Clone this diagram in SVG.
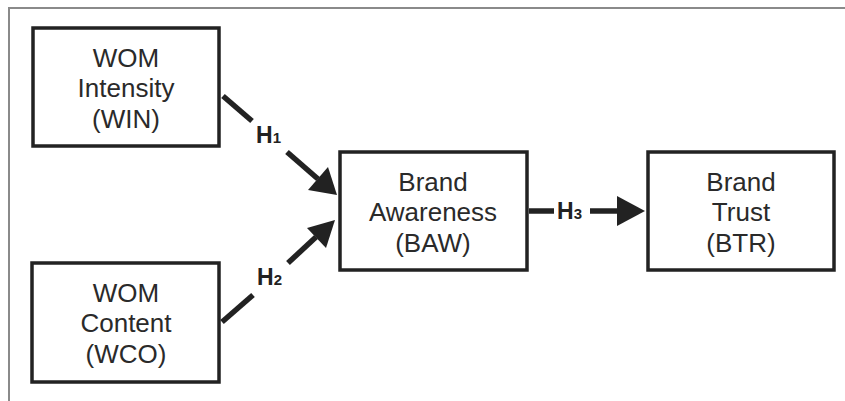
<svg xmlns="http://www.w3.org/2000/svg" width="845" height="401" viewBox="0 0 845 401">
<style>
.box{fill:#fff;stroke:#222;stroke-width:3.5}
.t{font-family:"Liberation Sans",Arial,sans-serif;font-size:26px;fill:#2a2a2a;text-anchor:middle}
.h{font-family:"Liberation Sans",Arial,sans-serif;font-size:23px;font-weight:bold;fill:#222}
.s{font-size:15px}
.ln{stroke:#222;stroke-width:5.5;fill:none}
.hd{fill:#222}
.frame{stroke:#8a8a8a;stroke-width:2;fill:none}
</style>
<rect width="845" height="401" fill="#fff"/>
<path class="frame" d="M9,401 V8 H845"/>
<g id="WIN">
<rect class="box" x="33" y="28" width="186" height="118"/>
<text class="t" x="126" y="67">WOM</text>
<text class="t" x="126" y="97">Intensity</text>
<text class="t" x="126" y="128">(WIN)</text>
</g>
<g id="WCO">
<rect class="box" x="32" y="263" width="187" height="119"/>
<text class="t" x="126" y="302">WOM</text>
<text class="t" x="126" y="332">Content</text>
<text class="t" x="126" y="363">(WCO)</text>
</g>
<g id="BAW">
<rect class="box" x="340" y="152" width="187" height="118"/>
<text class="t" x="433" y="191">Brand</text>
<text class="t" x="433" y="221">Awareness</text>
<text class="t" x="433" y="252">(BAW)</text>
</g>
<g id="BTR">
<rect class="box" x="648" y="152" width="186" height="118"/>
<text class="t" x="741" y="191">Brand</text>
<text class="t" x="741" y="221">Trust</text>
<text class="t" x="741" y="252">(BTR)</text>
</g>
<g id="connectors">
<line class="ln" x1="223" y1="96" x2="252" y2="121"/>
<line class="ln" x1="287" y1="152" x2="318" y2="179"/>
<polygon class="hd" points="337,195 308,190 328,167"/>
<line class="ln" x1="222" y1="322" x2="253" y2="295"/>
<line class="ln" x1="288" y1="263" x2="316" y2="237"/>
<polygon class="hd" points="335,220 326,248 307,228"/>
<line class="ln" x1="529" y1="211" x2="554" y2="211"/>
<line class="ln" x1="590" y1="211" x2="620" y2="211"/>
<polygon class="hd" points="645,211 617,196 617,226"/>
<text class="h" x="256" y="143">H<tspan class="s">1</tspan></text>
<text class="h" x="257" y="285">H<tspan class="s">2</tspan></text>
<text class="h" x="557" y="219">H<tspan class="s">3</tspan></text>
</g>
</svg>
